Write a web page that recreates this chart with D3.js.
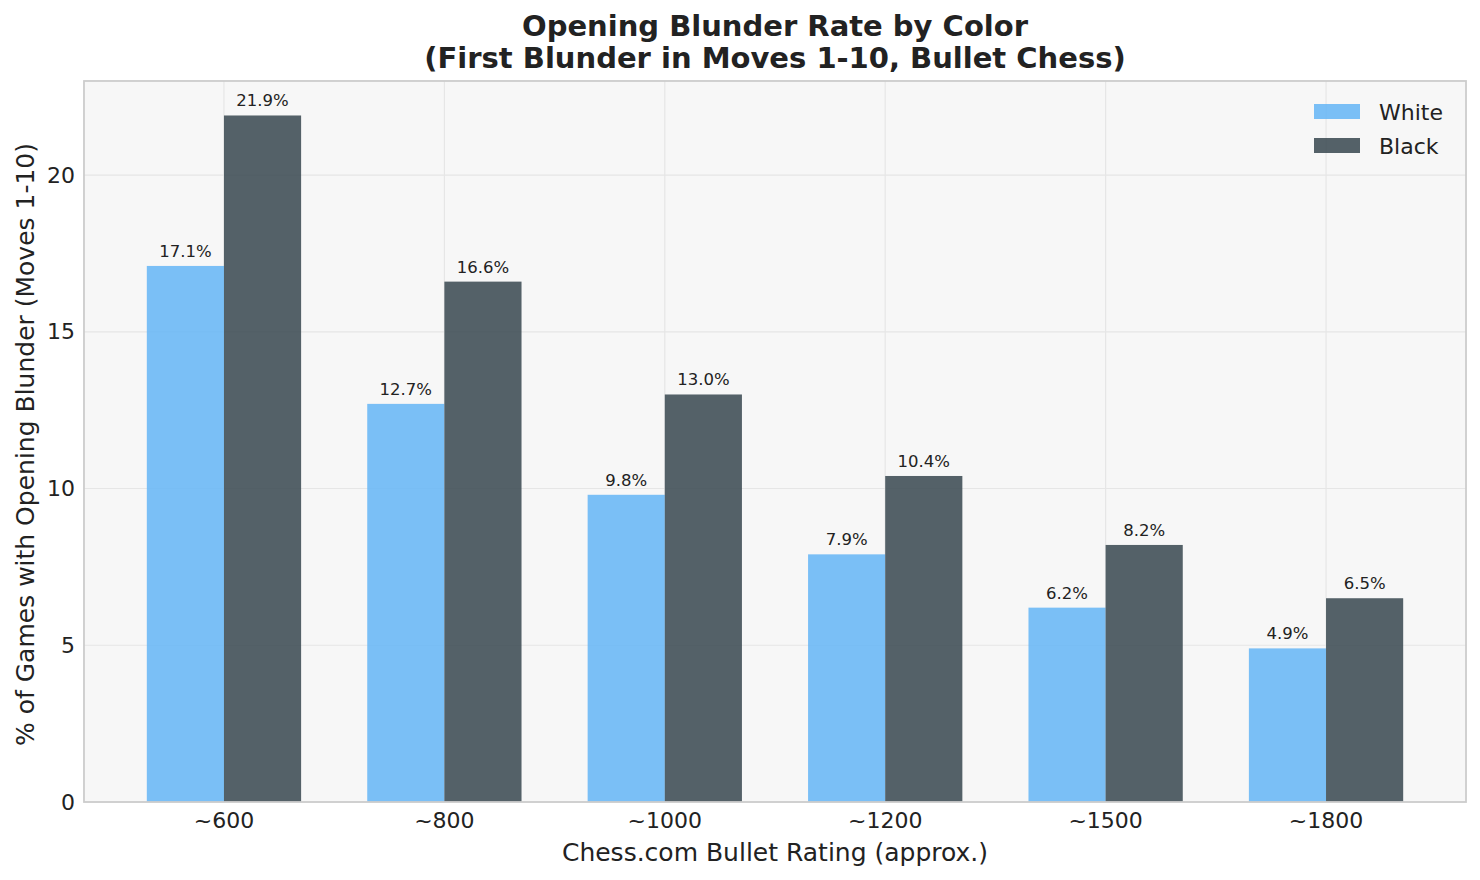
<!DOCTYPE html>
<html>
<head>
<meta charset="utf-8">
<script src="https://cdn.jsdelivr.net/npm/d3@7"></script>
<style>
  html, body { margin: 0; padding: 0; background: #ffffff; }
  svg { display: block; font-family: "DejaVu Sans", sans-serif; }
</style>
</head>
<body>
<svg id="chart" width="1480" height="880"></svg>
<script>
const categories = ["~600", "~800", "~1000", "~1200", "~1500", "~1800"];
const seriesNames = ["White", "Black"];
const whiteValues = [17.1, 12.7, 9.8, 7.9, 6.2, 4.9];
const blackValues = [21.9, 16.6, 13.0, 10.4, 8.2, 6.5];
const yTicks = [0, 5, 10, 15, 20];
const titleLines = ["Opening Blunder Rate by Color", "(First Blunder in Moves 1-10, Bullet Chess)"];
const xLabel = "Chess.com Bullet Rating (approx.)";
const yLabel = "% of Games with Opening Blunder (Moves 1-10)";

const colors = { White: "#64b5f6", Black: "#37474f" };
const seriesValues = { White: whiteValues, Black: blackValues };

const svg = d3.select("#chart");
const margin = { left: 84, right: 14, top: 81, bottom: 78 };
const W = 1480, H = 880;
const plotW = W - margin.left - margin.right;
const plotH = H - margin.top - margin.bottom;

const x = d3.scaleBand().domain(categories).range([0, plotW]).paddingInner(0.3).paddingOuter(0.285);
const xs = d3.scaleBand().domain(seriesNames).range([0, x.bandwidth()]).padding(0);
const y = d3.scaleLinear().domain([0, 23.0]).range([plotH, 0]);

const g = svg.append("g").attr("transform", `translate(${margin.left},${margin.top})`);

// background
g.append("rect").attr("width", plotW).attr("height", plotH).attr("fill", "#f7f7f7");

// grid
g.append("g").selectAll("line.h").data(yTicks).join("line")
  .attr("x1", 0).attr("x2", plotW)
  .attr("y1", d => y(d)).attr("y2", d => y(d))
  .attr("stroke", "#e6e6e6").attr("stroke-width", 1.2);
g.append("g").selectAll("line.v").data(categories).join("line")
  .attr("x1", d => x(d) + x.bandwidth() / 2).attr("x2", d => x(d) + x.bandwidth() / 2)
  .attr("y1", 0).attr("y2", plotH)
  .attr("stroke", "#e6e6e6").attr("stroke-width", 1.2);

// bars
const groups = g.append("g").selectAll("g").data(categories).join("g")
  .attr("transform", d => `translate(${x(d)},0)`);
groups.selectAll("rect").data((d, i) => seriesNames.map(s => ({ s, v: seriesValues[s][i] }))).join("rect")
  .attr("x", d => xs(d.s))
  .attr("width", xs.bandwidth())
  .attr("y", d => y(d.v))
  .attr("height", d => plotH - y(d.v))
  .attr("fill", d => colors[d.s])
  .attr("fill-opacity", 0.85);
groups.selectAll("text").data((d, i) => seriesNames.map(s => ({ s, v: seriesValues[s][i] }))).join("text")
  .attr("x", d => xs(d.s) + xs.bandwidth() / 2)
  .attr("y", d => y(d.v) - 9)
  .attr("text-anchor", "middle")
  .attr("font-size", 16.5)
  .attr("fill", "#222222")
  .text(d => d.v.toFixed(1) + "%");

// spines
g.append("rect").attr("width", plotW).attr("height", plotH)
  .attr("fill", "none").attr("stroke", "#cccccc").attr("stroke-width", 1.8);

// axes
const yAxis = g.append("g").call(d3.axisLeft(y).tickValues(yTicks).tickSize(0).tickPadding(9));
yAxis.select(".domain").remove();
yAxis.selectAll("text").attr("font-size", 22).attr("fill", "#222222").attr("font-family", "DejaVu Sans");

const xAxis = g.append("g").attr("transform", `translate(0,${plotH})`)
  .call(d3.axisBottom(x).tickSize(0).tickPadding(10));
xAxis.select(".domain").remove();
xAxis.selectAll("text").attr("font-size", 22).attr("fill", "#222222").attr("font-family", "DejaVu Sans");

// labels
svg.append("text").attr("x", margin.left + plotW / 2).attr("y", 861)
  .attr("text-anchor", "middle").attr("font-size", 25).attr("fill", "#222222").text(xLabel);
svg.append("text").attr("transform", `translate(34,${margin.top + plotH / 2 + 3}) rotate(-90)`)
  .attr("text-anchor", "middle").attr("font-size", 25).attr("fill", "#222222").text(yLabel);

// title
svg.append("g").selectAll("text").data(titleLines).join("text")
  .attr("x", margin.left + plotW / 2)
  .attr("y", (d, i) => 36 + i * 32)
  .attr("text-anchor", "middle").attr("font-size", 29).attr("font-weight", "bold")
  .attr("fill", "#222222").text(d => d);

// legend
const legend = svg.append("g").selectAll("g").data(seriesNames).join("g")
  .attr("transform", (d, i) => `translate(1314,${104 + i * 34})`);
legend.append("rect").attr("width", 46).attr("height", 15)
  .attr("fill", d => colors[d]).attr("fill-opacity", 0.85);
legend.append("text").attr("x", 65).attr("y", 16).attr("font-size", 22)
  .attr("fill", "#222222").text(d => d);
</script>
</body>
</html>
